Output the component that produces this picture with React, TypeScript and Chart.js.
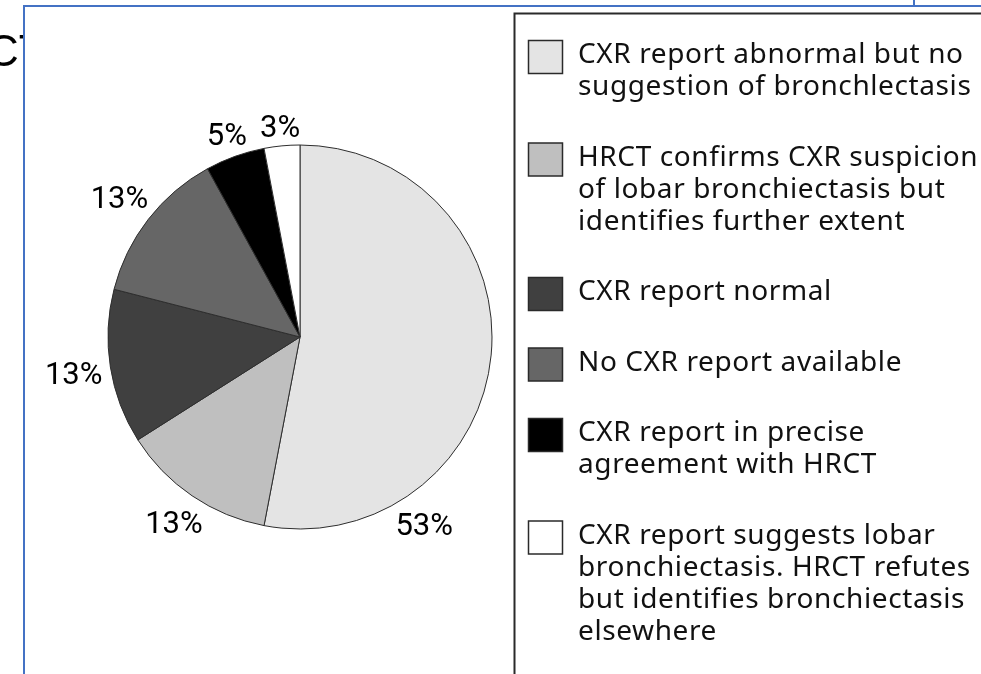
import { useEffect, useRef } from 'react';
import { Chart, registerables } from 'chart.js';

Chart.register(...registerables);

// Categories (legend text, split into the lines shown in the picture)
const categories: string[][] = [
  ['CXR report abnormal but no', 'suggestion of bronchlectasis'],
  ['HRCT confirms CXR suspicion', 'of lobar bronchiectasis but', 'identifies further extent'],
  ['CXR report normal'],
  ['No CXR report available'],
  ['CXR report in precise', 'agreement with HRCT'],
  ['CXR report suggests lobar', 'bronchiectasis. HRCT refutes', 'but identifies bronchiectasis', 'elsewhere'],
];
// Share of patients (%)
const shares = [53, 13, 13, 13, 5, 3];
// Printed slice labels
const valueLabels = ['53%', '13%', '13%', '13%', '5%', '3%'];
// Slice fills
const sliceColors = ['#e4e4e4', '#bfbfbf', '#404040', '#666666', '#000000', '#ffffff'];

const LEGEND_FONT = '28px "Noto Sans"';
const LABEL_FONT = '31px Roboto';

const decorPlugin = {
  id: 'decor',
  beforeDraw(chart: any) {
    const ctx: CanvasRenderingContext2D = chart.ctx;
    const W = chart.width;
    const H = chart.height;
    ctx.save();
    ctx.fillStyle = '#ffffff';
    ctx.fillRect(0, 0, W, H);
    // partially hidden slide title behind the picture
    ctx.save();
    ctx.beginPath();
    ctx.rect(0, 0, 23, H);
    ctx.clip();
    ctx.fillStyle = '#000000';
    ctx.font = '44px "Liberation Sans"';
    ctx.textBaseline = 'alphabetic';
    ctx.textAlign = 'left';
    ctx.fillText('CT', -13, 66);
    ctx.restore();
    // blue picture frame
    ctx.strokeStyle = '#4472c4';
    ctx.lineWidth = 2;
    ctx.beginPath();
    ctx.moveTo(24, H);
    ctx.lineTo(24, 6);
    ctx.lineTo(W, 6);
    ctx.stroke();
    ctx.beginPath();
    ctx.moveTo(914, 0);
    ctx.lineTo(914, 6);
    ctx.stroke();
    // legend box border
    ctx.strokeStyle = '#2a2a2a';
    ctx.lineWidth = 2;
    ctx.beginPath();
    ctx.moveTo(514.5, H);
    ctx.lineTo(514.5, 13.5);
    ctx.lineTo(W, 13.5);
    ctx.stroke();
    ctx.restore();
  },
  afterDraw(chart: any, _args: any, opts: any) {
    const ctx: CanvasRenderingContext2D = chart.ctx;
    const meta = chart.getDatasetMeta(0);
    const ds = chart.data.datasets[0];
    ctx.save();
    // value labels outside the slices
    ctx.font = LABEL_FONT;
    ctx.fillStyle = '#000000';
    ctx.textAlign = 'center';
    ctx.textBaseline = 'alphabetic';
    const capH = 22;
    meta.data.forEach((arc: any, i: number) => {
      const { x, y, startAngle, endAngle, outerRadius } = arc.getProps(
        ['x', 'y', 'startAngle', 'endAngle', 'outerRadius'],
        true
      );
      const f = (opts.anchor && opts.anchor[i] != null) ? opts.anchor[i] : 0.5;
      const a = startAngle + f * (endAngle - startAngle);
      const txt = valueLabels[i];
      const w = ctx.measureText(txt).width;
      const c = Math.cos(a);
      const s = Math.sin(a);
      const d = outerRadius + opts.gap + Math.abs(c) * w / 2 + Math.abs(s) * capH / 2;
      ctx.fillText(txt, x + c * d, y + s * d + capH / 2);
    });
    // legend
    const labels: string[][] = chart.data.labels;
    const boxX = 528.5;
    const textX = 578;
    const lineH = 32;
    const step = 70.5;
    let base = 63;
    ctx.textAlign = 'left';
    ctx.font = LEGEND_FONT;
    (ctx as any).letterSpacing = '0.6px';
    labels.forEach((lines, i) => {
      ctx.fillStyle = ds.backgroundColor[i];
      ctx.fillRect(boxX, base - 22.5, 34, 33);
      ctx.strokeStyle = '#2a2a2a';
      ctx.lineWidth = 1.5;
      ctx.strokeRect(boxX, base - 22.5, 34, 33);
      ctx.fillStyle = '#111111';
      lines.forEach((t, j) => ctx.fillText(t, textX, base + j * lineH));
      base += (lines.length - 1) * lineH + step;
    });
    ctx.restore();
  },
};

export default function App() {
  const ref = useRef<HTMLCanvasElement | null>(null);
  useEffect(() => {
    if (!ref.current) return;
    const chart = new Chart(ref.current, {
      type: 'pie',
      data: {
        labels: categories as any,
        datasets: [
          {
            data: shares,
            backgroundColor: sliceColors,
            borderColor: '#2e2e2e',
            borderWidth: 1,
          },
        ],
      },
      options: {
        responsive: false,
        animation: false,
        devicePixelRatio: 1,
        layout: { padding: { left: 107.5, right: 488.5, top: 144.5, bottom: 144.5 } },
        plugins: {
          legend: { display: false },
          tooltip: { enabled: false },
          decor: { gap: 7, anchor: [0.767] },
        } as any,
      },
      plugins: [decorPlugin],
    });
    return () => chart.destroy();
  }, []);
  return (
    <div style={{ position: 'fixed', left: 0, top: 0, width: 981, height: 674, background: '#fff' }}>
      <canvas ref={ref} width={981} height={674} style={{ display: 'block' }} />
    </div>
  );
}
